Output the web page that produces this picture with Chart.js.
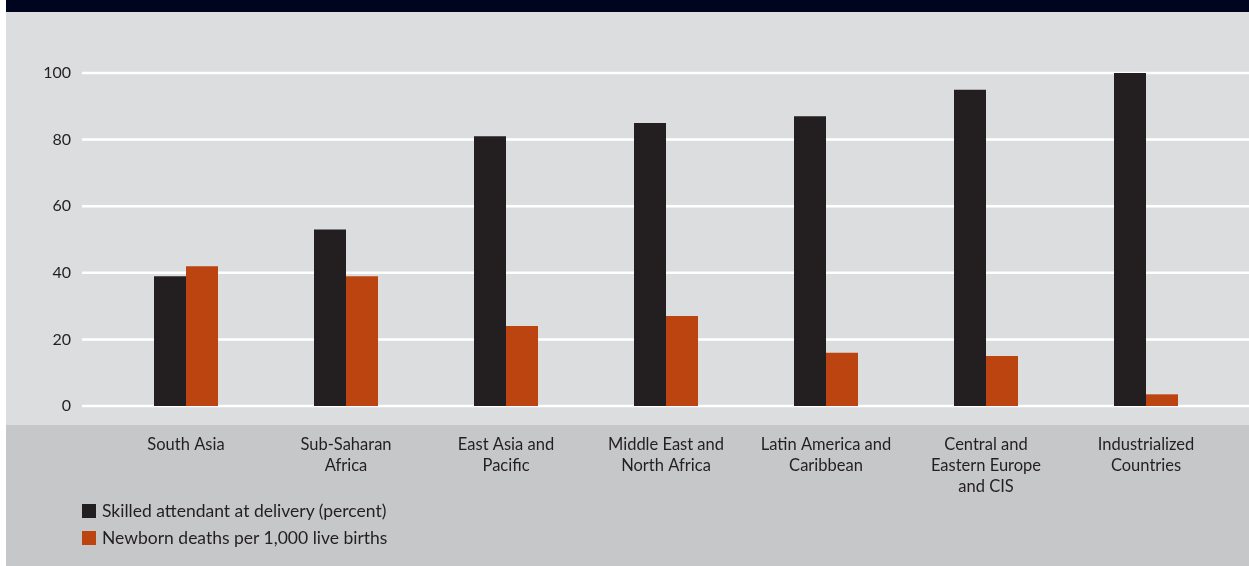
<!DOCTYPE html>
<html>
<head>
<meta charset="utf-8">
<script src="https://cdn.jsdelivr.net/npm/chart.js@4.4.1/dist/chart.umd.min.js"></script>
<style>
    body { margin: 0; background: #fff; font-family: Lato, sans-serif; }
    #wrap { position: relative; width: 1249px; height: 566px; overflow: hidden; }
    .panel { position: absolute; left: 6px; width: 1243px; }
    #band { top: 0; height: 12px; background: #00051f; }
    #plotBg { top: 12px; height: 413px; background: #dcdddf; }
    #footBg { top: 425px; height: 141px; background: #c6c7c9; }
    #chart { position: absolute; left: 0; top: 0; }
    #legend { position: absolute; left: 82px; top: 497px; color: #231f20; font-size: 17.5px; }
    #legend div { height: 27px; line-height: 22px; display: flex; align-items: center; }
    #legend span.box { display: inline-block; width: 14px; height: 14px; margin-right: 6px; }
</style>
</head>
<body>
<div id="wrap">
    <div class="panel" id="band"></div>
    <div class="panel" id="plotBg"></div>
    <div class="panel" id="footBg"></div>
    <canvas id="chart" width="1249" height="566"></canvas>
    <div id="legend"></div>
</div>
<script>
// Data
const categories = [
    ['South Asia'],
    ['Sub-Saharan', 'Africa'],
    ['East Asia and', 'Pacific'],
    ['Middle East and', 'North Africa'],
    ['Latin America and', 'Caribbean'],
    ['Central and', 'Eastern Europe', 'and CIS'],
    ['Industrialized', 'Countries']
];
const skilledAttendant = [39, 53, 81, 85, 87, 95, 100];
const newbornDeaths = [42, 39, 24, 27, 16, 15, 3.5];
const seriesNames = ['Skilled attendant at delivery (percent)', 'Newborn deaths per 1,000 live births'];
const seriesColors = ['#231f20', '#bb4410'];
const yTicks = [0, 20, 40, 60, 80, 100];

const textColor = '#231f20';

// White gridlines running across the whole panel
const wideGrid = {
    id: 'wideGrid',
    beforeDatasetsDraw(chart) {
        const ctx = chart.ctx;
        const y = chart.scales.y;
        ctx.save();
        ctx.strokeStyle = '#ffffff';
        ctx.lineWidth = 2.5;
        yTicks.forEach(v => {
            const py = y.getPixelForValue(v);
            ctx.beginPath();
            ctx.moveTo(82, py);
            ctx.lineTo(chart.width, py);
            ctx.stroke();
        });
        ctx.restore();
    }
};

new Chart(document.getElementById('chart'), {
    type: 'bar',
    data: {
        labels: categories,
        datasets: [
            { label: seriesNames[0], data: skilledAttendant, backgroundColor: seriesColors[0] },
            { label: seriesNames[1], data: newbornDeaths, backgroundColor: seriesColors[1] }
        ]
    },
    options: {
        responsive: false,
        devicePixelRatio: 1,
        animation: false,
        layout: { padding: { top: 73, right: 23, left: 0, bottom: 0 } },
        datasets: { bar: { barPercentage: 1, categoryPercentage: 0.4 } },
        plugins: { legend: { display: false }, tooltip: { enabled: false } },
        scales: {
            x: {
                grid: { display: false },
                border: { display: false },
                ticks: {
                    color: textColor,
                    font: { family: 'Lato', size: 16.5, lineHeight: 1.27 },
                    padding: 20,
                    maxRotation: 0,
                    autoSkip: false
                },
                afterFit: s => { s.height = 160; }
            },
            y: {
                min: 0,
                max: 100,
                grid: { display: false },
                border: { display: false },
                afterBuildTicks: s => { s.ticks = yTicks.map(v => ({ value: v })); },
                ticks: {
                    color: textColor,
                    font: { family: 'Lato', size: 16 },
                    padding: 27
                },
                afterFit: s => { s.width = 106; }
            }
        }
    },
    plugins: [wideGrid]
});

// Legend
const legend = document.getElementById('legend');
seriesNames.forEach((name, i) => {
    const row = document.createElement('div');
    row.innerHTML = `<span class="box" style="background:${seriesColors[i]}"></span>${name}`;
    legend.appendChild(row);
});
</script>
</body>
</html>
